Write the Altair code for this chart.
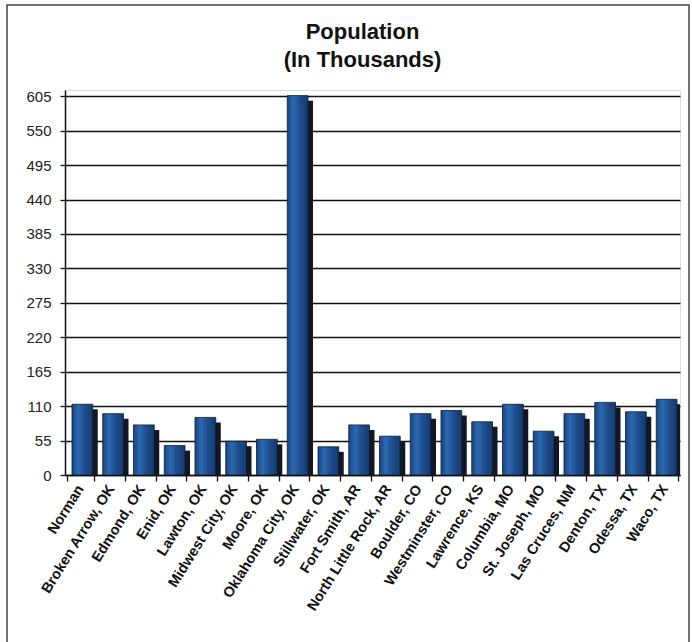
import altair as alt
import pandas as pd

cities = [
    "Norman", "Broken Arrow, OK", "Edmond, OK", "Enid, OK", "Lawton, OK",
    "Midwest City, OK", "Moore, OK", "Oklahoma City, OK", "Stillwater, OK",
    "Fort Smith, AR", "North Little Rock, AR", "Boulder, CO", "Westminster, CO",
    "Lawrence, KS", "Columbia, MO", "St. Joseph, MO", "Las Cruces, NM",
    "Denton, TX", "Odessa, TX", "Waco, TX",
]
population = [113, 98, 80, 47, 92, 54, 57, 606, 45, 80, 62, 98, 103, 85,
              113, 70, 98, 116, 101, 121]
y_ticks = [0, 55, 110, 165, 220, 275, 330, 385, 440, 495, 550, 605]

df = pd.DataFrame({"city": cities, "pop": population})

FONT = "Liberation Sans"
W, H = 615, 385

x_enc = alt.X("city:N", sort=None, title=None,
              axis=alt.Axis(labelAngle=-58, labelFont=FONT, labelFontWeight="bold",
                            labelFontSize=14.5, labelColor="#111", labelPadding=5,
                            tickBand="extent", tickSize=6, tickColor="#111",
                            tickWidth=1.3, domainColor="#111", domainWidth=1.5,
                            labelLimit=300, labelOverlap=False))
y_enc = alt.Y("pop:Q", title=None,
              scale=alt.Scale(domain=[0, 615], nice=False, zero=True),
              axis=alt.Axis(values=y_ticks, labelFont=FONT, labelFontSize=15,
                            labelColor="#222", labelPadding=9, tickSize=5,
                            tickColor="#111", tickWidth=1.3, domainColor="#111",
                            domainWidth=1.5, grid=True, gridColor="#111",
                            gridWidth=1.3))

shadow = alt.Chart(df).mark_bar(
    width={"band": 0.75}, xOffset=7, yOffset=5, color="#111724", clip=True
).encode(x=x_enc, y=y_enc)

front = alt.Chart(df).mark_bar(
    width={"band": 0.75}, xOffset=2, clip=True,
    color=alt.LinearGradient(
        gradient="linear", x1=0, x2=1, y1=0, y2=0,
        stops=[alt.GradientStop(color="#1a4582", offset=0),
               alt.GradientStop(color="#2d69b0", offset=0.3),
               alt.GradientStop(color="#1e4e8f", offset=0.6),
               alt.GradientStop(color="#163a6c", offset=1)]),
    stroke="#0d1a30", strokeWidth=0.8
).encode(x=x_enc, y=y_enc)

frame_df = pd.DataFrame({"k": [0]})
frame = alt.Chart(frame_df).mark_rect(
    fill=None, stroke="#444", strokeWidth=1.5, clip=False
).encode(x=alt.value(-58), x2=alt.value(624), y=alt.value(-85), y2=alt.value(565))

chart = alt.layer(frame, shadow, front).properties(
    width=W, height=H,
    title=alt.TitleParams(["Population", "(In Thousands)"], font=FONT,
                          fontSize=22, fontWeight="bold", color="#111",
                          anchor="middle", frame="group", dx=-10, offset=-68,
                          lineHeight=28),
    autosize=alt.AutoSizeParams(type="none"),
    padding={"left": 65, "top": 90, "right": 12, "bottom": 167},
).configure_view(stroke="#111", strokeWidth=1.5, fill="white"
).configure(background="white")

chart.save("out.html", embed_options={"renderer": "svg", "actions": False})
